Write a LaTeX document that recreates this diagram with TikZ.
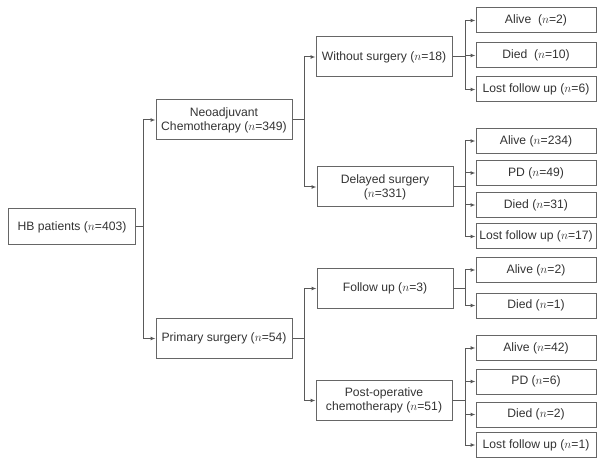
\documentclass[tikz,border=0pt]{standalone}
\usepackage{fontspec}
\setmainfont{Liberation Sans}
\usetikzlibrary{arrows.meta}

\begin{document}
\begin{tikzpicture}[x={(1bp,0bp)}, y={(0bp,-1bp)},
    every node/.style = {shape=rectangle, draw=black!60, line width=1bp,
      align=center, text=black!80, inner sep=1bp,
      font=\fontsize{12.2}{14}\selectfont},
    root/.style = {minimum width=126bp, minimum height=36bp},
    mid/.style = {minimum width=136bp, minimum height=40bp},
    leaf/.style = {minimum width=120bp, minimum height=25bp},
    link/.style = {draw=black!65, line width=1bp,
      -{Latex[length=5bp,width=4bp]}}]
  \useasboundingbox (0,0) rectangle (598,458);

  \node[root] (hb) at (72,227) {HB patients ($n$=403)};

  \node[mid] (neo) at (224,120) {Neoadjuvant\\Chemotherapy ($n$=349)};
  \node[mid] (prim) at (224,338.5) {Primary surgery ($n$=54)};

  \node[mid] (wo) at (384,57) {Without surgery ($n$=18)};
  \node[mid] (del) at (385,187) {Delayed surgery\\($n$=331)};
  \node[mid] (fu) at (385,288.5) {Follow up ($n$=3)};
  \node[mid] (post) at (384,400.5) {Post-operative\\chemotherapy ($n$=51)};

  \node[leaf] (woA) at (536,20.5) {Alive\ \ ($n$=2)};
  \node[leaf] (woD) at (536,55.5) {Died\ \ ($n$=10)};
  \node[leaf] (woL) at (536,89.5) {Lost follow up ($n$=6)};

  \node[leaf] (delA) at (536,141) {Alive ($n$=234)};
  \node[leaf] (delP) at (536,173) {PD ($n$=49)};
  \node[leaf] (delD) at (536,205) {Died ($n$=31)};
  \node[leaf] (delL) at (536,236.5) {Lost follow up ($n$=17)};

  \node[leaf] (fuA) at (536,270) {Alive ($n$=2)};
  \node[leaf] (fuD) at (536,305.5) {Died ($n$=1)};

  \node[leaf] (postA) at (536,348) {Alive ($n$=42)};
  \node[leaf] (postP) at (536,381.5) {PD ($n$=6)};
  \node[leaf] (postD) at (536,414.5) {Died ($n$=2)};
  \node[leaf] (postL) at (536,445) {Lost follow up ($n$=1)};

  % branches
  \foreach \c in {neo,prim}
    \draw[link] (hb.east) -- ++(8,0) |- (\c.west);
  \foreach \c in {wo,del}
    \draw[link] (neo.east) -- ++(12,0) |- (\c.west);
  \foreach \c in {fu,post}
    \draw[link] (prim.east) -- ++(12,0) |- (\c.west);

  \foreach \c in {woA,woD,woL}
    \draw[link] (wo.east) -- ++(13,0) |- (\c.west);
  \foreach \c in {delA,delP,delD,delL}
    \draw[link] (del.east) -- ++(12,0) |- (\c.west);
  \foreach \c in {fuA,fuD}
    \draw[link] (fu.east) -- ++(12,0) |- (\c.west);
  \foreach \c in {postA,postP,postD,postL}
    \draw[link] (post.east) -- ++(13,0) |- (\c.west);
\end{tikzpicture}
\end{document}
